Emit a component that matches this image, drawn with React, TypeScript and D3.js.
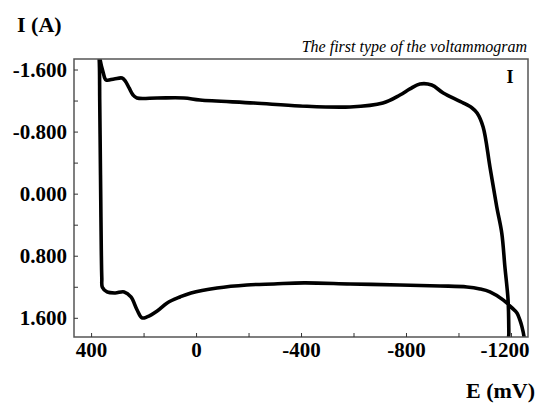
import React, { useEffect, useRef } from 'react'
import * as d3 from 'd3'

// potential scan, left edge down and along the lower branch (mV / A)
const forwardE = [375, 371, 369, 367, 365, 363, 361, 359, 341, 310, 276, 250, 227, 208, 189, 150, 112, 63, 21, -78, -192, -295, -410, -585, -775, -928, -1030, -1080, -1118, -1168, -1202, -1221, -1232, -1240, -1248, -1251]
const forwardI = [-1.86, -1.74, -1.21, -0.57, 0.08, 0.72, 1.08, 1.2, 1.26, 1.273, 1.26, 1.325, 1.49, 1.595, 1.582, 1.505, 1.402, 1.325, 1.273, 1.209, 1.17, 1.157, 1.144, 1.157, 1.17, 1.183, 1.196, 1.222, 1.26, 1.363, 1.466, 1.531, 1.621, 1.711, 1.84, 1.97]

// return scan, right edge up and along the upper branch
const reverseE = [-1190, -1190, -1187, -1175, -1163, -1144, -1118, -1092, -1069, -1050, -1011, -940, -896, -851, -813, -775, -710, -585, -394, -219, -13, 48, 150, 227, 242, 257, 272, 284, 314, 345, 356, 368, 371]
const reverseI = [1.97, 1.79, 1.363, 0.938, 0.5, 0.165, -0.351, -0.866, -1.046, -1.111, -1.185, -1.304, -1.407, -1.42, -1.356, -1.278, -1.175, -1.124, -1.137, -1.175, -1.214, -1.24, -1.24, -1.24, -1.278, -1.369, -1.459, -1.497, -1.485, -1.472, -1.572, -1.742, -1.86]

const xTicks = [400, 200, 0, -200, -400, -600, -800, -1000, -1200]
const xLabels = [400, 0, -400, -800, -1200]
const yTicks = [-1.6, -1.2, -0.8, -0.4, 0, 0.4, 0.8, 1.2, 1.6]
const yLabels = [-1.6, -0.8, 0, 0.8, 1.6]

const W = 537
const H = 403
const frame = { left: 74, top: 59, right: 528, bottom: 337 }
const font = '"Liberation Serif", "Times New Roman", serif'

const App = () => {
  const ref = useRef(null)

  useEffect(() => {
    const svg = d3.select(ref.current)
    svg.selectAll('*').remove()

    const x = d3.scaleLinear().domain([467, -1263]).range([frame.left, frame.right])
    const y = d3.scaleLinear().domain([-1.742, 1.841]).range([frame.top, frame.bottom])

    svg
      .append('defs')
      .append('clipPath')
      .attr('id', 'plot-clip')
      .append('rect')
      .attr('x', frame.left)
      .attr('y', frame.top)
      .attr('width', frame.right - frame.left)
      .attr('height', frame.bottom - frame.top)

    const pts = [
      ...forwardE.map((e, i) => [e, forwardI[i]]),
      ...reverseE.map((e, i) => [e, reverseI[i]]),
    ]

    const line = d3
      .line()
      .x((d) => x(d[0]))
      .y((d) => y(d[1]))
      .curve(d3.curveCatmullRom.alpha(0.5))

    svg
      .append('path')
      .attr('clip-path', 'url(#plot-clip)')
      .attr('d', line(pts))
      .attr('fill', 'none')
      .attr('stroke', '#000')
      .attr('stroke-width', 3.6)
      .attr('stroke-linejoin', 'round')

    // frame
    svg
      .append('rect')
      .attr('x', frame.left)
      .attr('y', frame.top)
      .attr('width', frame.right - frame.left)
      .attr('height', frame.bottom - frame.top)
      .attr('fill', 'none')
      .attr('stroke', '#555')
      .attr('stroke-width', 1.5)

    // inward ticks
    svg
      .append('g')
      .selectAll('line')
      .data(xTicks)
      .join('line')
      .attr('x1', (d) => x(d))
      .attr('x2', (d) => x(d))
      .attr('y1', frame.bottom)
      .attr('y2', frame.bottom - 4)
      .attr('stroke', '#333')

    svg
      .append('g')
      .selectAll('line')
      .data(yTicks)
      .join('line')
      .attr('x1', frame.left)
      .attr('x2', frame.left + 4)
      .attr('y1', (d) => y(d))
      .attr('y2', (d) => y(d))
      .attr('stroke', '#333')

    svg
      .append('g')
      .selectAll('text')
      .data(xLabels)
      .join('text')
      .attr('x', (d) => Math.min(x(d), frame.right - 23))
      .attr('y', 357)
      .attr('text-anchor', 'middle')
      .attr('font-family', font)
      .attr('font-weight', 'bold')
      .attr('font-size', 21)
      .text((d) => d)

    svg
      .append('g')
      .selectAll('text')
      .data(yLabels)
      .join('text')
      .attr('x', 67)
      .attr('y', (d) => y(d) + 7)
      .attr('text-anchor', 'end')
      .attr('font-family', font)
      .attr('font-weight', 'bold')
      .attr('font-size', 21)
      .text((d) => d.toFixed(3))

    svg
      .append('text')
      .attr('x', 17)
      .attr('y', 32)
      .attr('font-family', font)
      .attr('font-weight', 'bold')
      .attr('font-size', 22)
      .text('I (A)')

    svg
      .append('text')
      .attr('x', 535)
      .attr('y', 398)
      .attr('text-anchor', 'end')
      .attr('font-family', font)
      .attr('font-weight', 'bold')
      .attr('font-size', 22)
      .text('E (mV)')

    svg
      .append('text')
      .attr('x', 527)
      .attr('y', 52)
      .attr('text-anchor', 'end')
      .attr('font-family', font)
      .attr('font-style', 'italic')
      .attr('font-size', 16)
      .text('The first type of the voltammogram')

    svg
      .append('text')
      .attr('x', 510)
      .attr('y', 83)
      .attr('text-anchor', 'middle')
      .attr('font-family', font)
      .attr('font-weight', 'bold')
      .attr('font-size', 18)
      .text('I')
  }, [])

  return (
    <svg
      ref={ref}
      width={W}
      height={H}
      style={{ position: 'absolute', left: 0, top: 0, background: '#fff' }}
    ></svg>
  )
}

export default App
